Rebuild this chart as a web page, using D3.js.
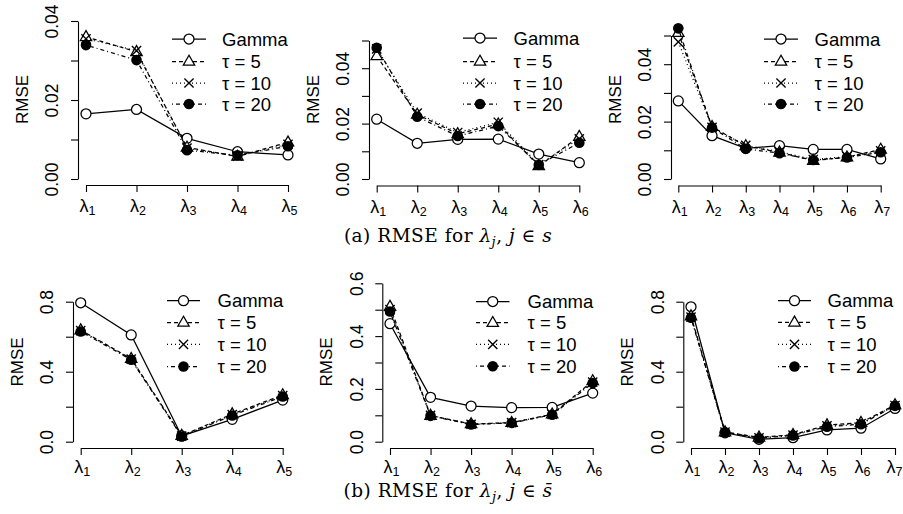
<!DOCTYPE html>
<html>
<head>
<meta charset="utf-8">
<script src="https://cdn.jsdelivr.net/npm/d3@7"></script>
<style>
  html, body { margin: 0; padding: 0; background: #fff; }
  svg { display: block; }
  text { font-family: "Liberation Sans", Arial, Helvetica, sans-serif; fill: #000; }
</style>
</head>
<body>
<svg id="chart" width="903" height="514"></svg>
<script>
// Legend entries (same order as the rows of every series table below)
const seriesNames = ["Gamma", "τ = 5", "τ = 10", "τ = 20"];

// (a) RMSE for lambda_j, j in s  — rows: Gamma, tau=5, tau=10, tau=20
const rmseA5 = [
  [0.0165, 0.0176, 0.0103, 0.0069, 0.0061],
  [0.0360, 0.0322, 0.0080, 0.0057, 0.0093],
  [0.0355, 0.0325, 0.0078, 0.0058, 0.0088],
  [0.0339, 0.0301, 0.0073, 0.0060, 0.0083]
];
const rmseA6 = [
  [0.0216, 0.0129, 0.0143, 0.0144, 0.0090, 0.0059],
  [0.0444, 0.0233, 0.0163, 0.0198, 0.0047, 0.0153],
  [0.0470, 0.0238, 0.0168, 0.0205, 0.0052, 0.0145],
  [0.0474, 0.0225, 0.0155, 0.0191, 0.0051, 0.0131]
];
const rmseA7 = [
  [0.0272, 0.0151, 0.0107, 0.0116, 0.0103, 0.0103, 0.0070],
  [0.0510, 0.0182, 0.0115, 0.0093, 0.0064, 0.0076, 0.0103],
  [0.0478, 0.0180, 0.0117, 0.0095, 0.0068, 0.0078, 0.0098],
  [0.0525, 0.0179, 0.0105, 0.0090, 0.0066, 0.0075, 0.0093]
];

// (b) RMSE for lambda_j, j in s-bar
const rmseB5 = [
  [0.794, 0.610, 0.033, 0.128, 0.238],
  [0.638, 0.474, 0.035, 0.158, 0.267],
  [0.635, 0.472, 0.032, 0.155, 0.263],
  [0.630, 0.468, 0.030, 0.150, 0.258]
];
const rmseB6 = [
  [0.447, 0.168, 0.135, 0.129, 0.130, 0.184],
  [0.512, 0.099, 0.067, 0.072, 0.104, 0.230],
  [0.500, 0.100, 0.066, 0.072, 0.103, 0.226],
  [0.493, 0.098, 0.065, 0.071, 0.102, 0.222]
];
const rmseB7 = [
  [0.771, 0.051, 0.014, 0.023, 0.067, 0.077, 0.190],
  [0.718, 0.055, 0.025, 0.040, 0.095, 0.109, 0.210],
  [0.712, 0.055, 0.022, 0.038, 0.090, 0.104, 0.207],
  [0.708, 0.054, 0.020, 0.036, 0.086, 0.100, 0.205]
];

// y-axis ticks and their printed labels (empty = tick without label)
const ticksA4 = [0, 0.01, 0.02, 0.03, 0.04];
const labelsA4 = ["0.00", "", "0.02", "", "0.04"];
const ticksA5 = [0, 0.01, 0.02, 0.03, 0.04, 0.05];
const labelsA5 = ["0.00", "", "0.02", "", "0.04", ""];
const ticksB8 = [0, 0.2, 0.4, 0.6, 0.8];
const labelsB8 = ["0.0", "", "0.4", "", "0.8"];
const ticksB6 = [0, 0.1, 0.2, 0.3, 0.4, 0.5, 0.6];
const labelsB6 = ["0.0", "", "0.2", "", "0.4", "", "0.6"];

// x-axis categories: lambda_1 ... lambda_k (subscripts)
const lambdaIdx5 = ["1", "2", "3", "4", "5"];
const lambdaIdx6 = ["1", "2", "3", "4", "5", "6"];
const lambdaIdx7 = ["1", "2", "3", "4", "5", "6", "7"];

// Panel layout
const panels = [
  { data: rmseA5, cats: lambdaIdx5, ticks: ticksA4, labels: labelsA4,
    ax: 78, x0: 86, x1: 288, y0: 179, yTop: 21, axisY: 185, lamDy: 27, ylabY: 99.5,
    leg: { x0: 172, x1: 206, tx: 222, ys: [39, 61.5, 83, 104] } },
  { data: rmseA6, cats: lambdaIdx6, ticks: ticksA5, labels: labelsA5,
    ax: 369, x0: 376.7, x1: 579.3, y0: 179, yTop: 40.5, axisY: 185.5, lamDy: 27, ylabY: 99.5,
    leg: { x0: 463, x1: 497, tx: 513.5, ys: [38, 61.5, 83, 104] } },
  { data: rmseA7, cats: lambdaIdx7, ticks: ticksA5, labels: labelsA5,
    ax: 671, x0: 678.3, x1: 880.7, y0: 179, yTop: 35.5, axisY: 185.5, lamDy: 27, ylabY: 99.5,
    leg: { x0: 764, x1: 798, tx: 814.5, ys: [39, 61.5, 83, 104] } },
  { data: rmseB5, cats: lambdaIdx5, ticks: ticksB8, labels: labelsB8,
    ax: 73, x0: 80.7, x1: 282.7, y0: 441.7, yTop: 301.7, axisY: 448, lamDy: 25, ylabY: 362,
    leg: { x0: 167, x1: 200, tx: 217.5, ys: [300.7, 322.5, 344.3, 366.5] } },
  { data: rmseB6, cats: lambdaIdx6, ticks: ticksB6, labels: labelsB6,
    ax: 382.3, x0: 390, x1: 592.7, y0: 441.7, yTop: 283.3, axisY: 448, lamDy: 25, ylabY: 362,
    leg: { x0: 476, x1: 509.5, tx: 527.5, ys: [301.5, 322.7, 344.3, 366.2] } },
  { data: rmseB7, cats: lambdaIdx7, ticks: ticksB8, labels: labelsB8,
    ax: 683.3, x0: 691, x1: 895, y0: 441.7, yTop: 301.7, axisY: 448, lamDy: 25, ylabY: 362,
    leg: { x0: 778, x1: 811, tx: 827.5, ys: [300.7, 322.3, 344.3, 366.5] } }
];

// Line types per series: solid, dashed, dotted, dot-dash
const dashes = [null, "4,3", "1,3", "1,3,4,3"];
const strokeW = 1.25;
const W = 903;

const svg = d3.select("#chart");

// Marker drawing (open circle, open triangle, cross, filled circle)
function drawMarker(g, kind, cx, cy) {
  if (kind === 0) {
    g.append("circle").attr("cx", cx).attr("cy", cy).attr("r", 5)
      .attr("fill", "#fff").attr("stroke", "#000").attr("stroke-width", strokeW);
  } else if (kind === 1) {
    const s = 6.2;
    const pts = [[cx, cy - s], [cx - s * 0.92, cy + s * 0.6], [cx + s * 0.92, cy + s * 0.6]];
    g.append("path").attr("d", "M" + pts.map(p => p.join(",")).join("L") + "Z")
      .attr("fill", "#fff").attr("stroke", "#000").attr("stroke-width", strokeW);
  } else if (kind === 2) {
    const s = 4.6;
    g.append("path")
      .attr("d", `M${cx - s},${cy - s}L${cx + s},${cy + s}M${cx - s},${cy + s}L${cx + s},${cy - s}`)
      .attr("fill", "none").attr("stroke", "#000").attr("stroke-width", strokeW * 1.1);
  } else {
    g.append("circle").attr("cx", cx).attr("cy", cy).attr("r", 5.3).attr("fill", "#000");
  }
}

panels.forEach(p => {
  const g = svg.append("g");
  const x = d3.scalePoint().domain(p.cats).range([p.x0, p.x1]).padding(0);
  const yMax = p.ticks[p.ticks.length - 1];
  const y = d3.scaleLinear().domain([0, yMax]).range([p.y0, p.yTop]);

  // y axis
  const yAxis = d3.axisLeft(y).tickValues(p.ticks).tickSize(7).tickSizeOuter(0)
    .tickFormat((d, i) => p.labels[i]);
  const ga = g.append("g").attr("transform", `translate(${p.ax},0)`).call(yAxis);
  ga.select(".domain").attr("stroke", "#000").attr("stroke-width", 1.1);
  ga.selectAll(".tick line").attr("stroke", "#000").attr("stroke-width", 1.1);
  ga.selectAll(".tick text")
    .attr("transform", "rotate(-90)")
    .attr("x", 0).attr("y", -26).attr("dy", "0.36em")
    .attr("text-anchor", "middle")
    .style("font-size", "17.5px")
    .style("font-family", "'Liberation Sans', Arial, sans-serif");

  // x axis with lambda subscript labels
  const xAxis = d3.axisBottom(x).tickSize(7).tickSizeOuter(0).tickFormat("");
  const gx = g.append("g").attr("transform", `translate(0,${p.axisY})`).call(xAxis);
  gx.select(".domain").attr("stroke", "#000").attr("stroke-width", 1.1);
  gx.selectAll(".tick line").attr("stroke", "#000").attr("stroke-width", 1.1);
  gx.selectAll(".tick text").each(function (d) {
    const t = d3.select(this);
    t.text(null).attr("y", p.lamDy).attr("dy", 0).attr("x", 1)
      .attr("text-anchor", "middle")
      .style("font-family", "'Liberation Sans', Arial, sans-serif");
    t.append("tspan").style("font-size", "18px").text("λ");
    t.append("tspan").style("font-size", "12.5px").attr("dy", "3").text(d);
    // keep the label inside the drawing area
    const bb = this.getBBox();
    const tickX = x(d);
    const right = tickX + bb.x + bb.width;
    if (right > W - 1) t.attr("x", 1 - (right - (W - 1)));
  });

  // y label
  g.append("text")
    .attr("transform", `translate(${p.ax - 56},${p.ylabY}) rotate(-90)`)
    .attr("text-anchor", "middle").attr("dy", "0.36em")
    .style("font-size", "17px")
    .text("RMSE");

  // series: line then markers
  p.data.forEach((vals, si) => {
    const line = d3.line().x((d, i) => x(p.cats[i])).y(d => y(d));
    g.append("path").datum(vals).attr("d", line)
      .attr("fill", "none").attr("stroke", "#000").attr("stroke-width", strokeW)
      .attr("stroke-dasharray", dashes[si]);
    vals.forEach((v, i) => drawMarker(g, si, x(p.cats[i]), y(v)));
  });

  // legend
  const L = p.leg;
  seriesNames.forEach((name, si) => {
    const ly = L.ys[si];
    g.append("line").attr("x1", L.x0).attr("x2", L.x1).attr("y1", ly).attr("y2", ly)
      .attr("stroke", "#000").attr("stroke-width", strokeW)
      .attr("stroke-dasharray", dashes[si]);
    drawMarker(g, si, (L.x0 + L.x1) / 2, ly);
    g.append("text").attr("x", L.tx).attr("y", ly).attr("dy", "0.36em")
      .style("font-size", "18.5px").text(name);
  });
});

// Captions
function caption(yPos, letter, bar) {
  const t = svg.append("text")
    .attr("x", 448).attr("y", yPos).attr("text-anchor", "middle")
    .style("font-size", "18.5px")
    .style("letter-spacing", "0.5px")
    .style("font-family", "'DejaVu Serif', 'Liberation Serif', serif");
  t.append("tspan").text(`(${letter}) RMSE for `);
  t.append("tspan").style("font-style", "italic").text("λ");
  t.append("tspan").style("font-style", "italic").style("font-size", "13px").attr("dy", 4).text("j");
  t.append("tspan").attr("dy", -4).text(", ");
  t.append("tspan").style("font-style", "italic").text("j");
  t.append("tspan").text(" ∈ ");
  t.append("tspan").style("font-style", "italic").text(bar ? "s\u0304" : "s");
}
caption(242, "a", false);
caption(497, "b", true);
</script>
</body>
</html>
